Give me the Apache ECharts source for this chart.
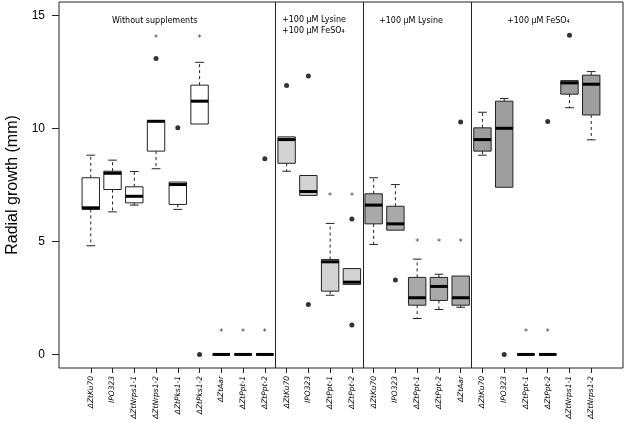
<!DOCTYPE html>
<html><head><meta charset="utf-8">
<script src="https://cdn.jsdelivr.net/npm/echarts@6/dist/echarts.min.js"></script>
<style>html,body{margin:0;padding:0;background:#fff}#c{width:625px;height:422px}</style>
</head><body><div id="c"></div>
<script>
// ---------- data ----------
const categories = ['ΔZtKu70','IPO323','ΔZtNrps1-1','ΔZtNrps1-2','ΔZtPks1-1','ΔZtPks1-2','ΔZtAar','ΔZtPpt-1','ΔZtPpt-2',
  'ΔZtKu70','IPO323','ΔZtPpt-1','ΔZtPpt-2',
  'ΔZtKu70','IPO323','ΔZtPpt-1','ΔZtPpt-2','ΔZtAar',
  'ΔZtKu70','IPO323','ΔZtPpt-1','ΔZtPpt-2','ΔZtNrps1-1','ΔZtNrps1-2'];
const panelSizes = [9, 4, 5, 6];
const panelTitles = ['Without supplements', '+100 µM Lysine\n+100 µM FeSO₄', '+100 µM Lysine', '+100 µM FeSO₄'];
const lowerWhisker  = [4.81, 6.31, 6.61, 8.22, 6.42, 10.20, 0, 0, 0, 8.11, 7.04, 2.62, 3.10, 4.87, 5.50, 1.59, 1.99, 2.09, 8.82, 7.40, 0, 0, 10.92, 9.50];
const lowerQuartile = [6.42, 7.30, 6.71, 9.00, 6.64, 10.20, 0, 0, 0, 8.46, 7.04, 2.80, 3.10, 5.78, 5.50, 2.18, 2.39, 2.18, 9.00, 7.40, 0, 0, 11.52, 10.60];
const medians       = [6.49, 8.02, 7.00, 10.32, 7.52, 11.21, 0, 0, 0, 9.51, 7.21, 4.10, 3.20, 6.61, 5.78, 2.51, 3.01, 2.51, 9.51, 10.01, 0, 0, 12.02, 11.96];
const upperQuartile = [7.82, 8.11, 7.42, 10.35, 7.63, 11.92, 0, 0, 0, 9.63, 7.92, 4.20, 3.80, 7.11, 6.56, 3.41, 3.41, 3.47, 10.03, 11.21, 0, 0, 12.12, 12.36];
const upperWhisker  = [8.82, 8.60, 8.10, 10.35, 7.63, 12.93, 0, 0, 0, 9.63, 7.92, 5.80, 3.80, 7.82, 7.52, 4.22, 3.55, 3.47, 10.72, 11.33, 0, 0, 12.12, 12.52];
const outlierCategory = [3, 4, 5, 8, 9, 10, 10, 12, 12, 14, 17, 19, 21, 22];
const outlierValue    = [13.10, 10.03, 0, 8.66, 11.90, 12.32, 2.21, 6.00, 1.30, 3.30, 10.29, 0, 10.31, 14.13];
const starCategory = [3, 5, 6, 7, 8, 11, 12, 15, 16, 17, 20, 21];
const starValue    = [14.04, 14.04, 1.03, 1.03, 1.03, 7.04, 7.04, 5.03, 5.03, 5.03, 1.03, 1.03];
const yTicks = [0, 5, 10, 15];

// ---------- styles / layout ----------
const panelFills = ['#ffffff', '#d3d3d3', '#a9a9a9', '#9e9e9e'];
const titlePos = [[112, 15], [282, 14], [379, 15], [507, 15]];
const LINE = '#222';

const panelOf = [];
const boundaries = [];
let acc = 0;
panelSizes.forEach((n, p) => { for (let k = 0; k < n; k++) panelOf.push(p); acc += n; if (p < panelSizes.length - 1) boundaries.push(acc - 0.5); });
const n = categories.length;
const pad = 0.5 + n * 0.04; // R-like axis extension
const boxData = categories.map((c, i) => [i, lowerWhisker[i], lowerQuartile[i], medians[i], upperQuartile[i], upperWhisker[i]]);
const outlierData = outlierCategory.map((c, i) => [c, outlierValue[i]]);
const starData = starCategory.map((c, i) => [c, starValue[i]]);

function renderBox(params, api) {
  const x = api.value(0);
  const lo = api.coord([x, api.value(1)]);
  const q1 = api.coord([x, api.value(2)]);
  const md = api.coord([x, api.value(3)]);
  const q3 = api.coord([x, api.value(4)]);
  const hi = api.coord([x, api.value(5)]);
  const w = api.size([0.8, 0])[0];
  const cx = lo[0], half = w / 2, cap = w / 4;
  const ch = [];
  if (hi[1] < q3[1] - 0.5) {
    ch.push({type: 'line', shape: {x1: cx, y1: q3[1], x2: cx, y2: hi[1]}, style: {stroke: LINE, lineWidth: 1, lineDash: [3, 3]}});
    ch.push({type: 'line', shape: {x1: cx - cap, y1: hi[1], x2: cx + cap, y2: hi[1]}, style: {stroke: LINE, lineWidth: 1}});
  }
  if (lo[1] > q1[1] + 0.5) {
    ch.push({type: 'line', shape: {x1: cx, y1: q1[1], x2: cx, y2: lo[1]}, style: {stroke: LINE, lineWidth: 1, lineDash: [3, 3]}});
    ch.push({type: 'line', shape: {x1: cx - cap, y1: lo[1], x2: cx + cap, y2: lo[1]}, style: {stroke: LINE, lineWidth: 1}});
  }
  ch.push({type: 'rect', shape: {x: cx - half, y: q3[1], width: w, height: q1[1] - q3[1]},
    style: {fill: panelFills[panelOf[x]], stroke: LINE, lineWidth: 1}});
  ch.push({type: 'line', shape: {x1: cx - half, y1: md[1], x2: cx + half, y2: md[1]}, style: {stroke: '#000', lineWidth: 3}});
  return {type: 'group', children: ch};
}

const chart = echarts.init(document.getElementById('c'), null, {renderer: 'canvas'});
chart.setOption({
  animation: false,
  backgroundColor: '#fff',
  title: panelTitles.map((t, i) => ({
    text: t, left: titlePos[i][0], top: titlePos[i][1], padding: 0,
    textStyle: {fontFamily: 'DejaVu Sans', fontSize: 8, fontWeight: 'normal', color: '#000', lineHeight: 11}
  })),
  grid: {left: 59, right: 2, top: 2, bottom: 54, containLabel: false, outerBoundsMode: 'none',
    show: true, borderColor: '#222', borderWidth: 1, backgroundColor: 'transparent'},
  xAxis: {
    type: 'value', min: -pad, max: n - 1 + pad, position: 'bottom',
    splitLine: {show: false}, axisLine: {show: false, onZero: false},
    axisTick: {show: true, length: 5, inside: false, customValues: categories.map((c, i) => i), lineStyle: {color: '#222'}},
    axisLabel: {show: true, customValues: categories.map((c, i) => i), formatter: v => categories[Math.round(v)] || '',
      rotate: 90, margin: 8, fontFamily: 'DejaVu Sans', fontStyle: 'italic', fontSize: 7.5, color: '#000'}
  },
  yAxis: {
    type: 'value', min: -0.6, max: 15.6, position: 'left',
    splitLine: {show: false}, axisLine: {show: false, onZero: false},
    name: 'Radial growth (mm)', nameLocation: 'middle', nameGap: 38,
    nameTextStyle: {fontFamily: 'Liberation Sans', fontSize: 16, color: '#000'},
    axisTick: {show: true, length: 7, inside: false, customValues: yTicks, lineStyle: {color: '#222'}},
    axisLabel: {show: true, customValues: yTicks, margin: 14, fontFamily: 'Liberation Sans', fontSize: 12, color: '#000'}
  },
  series: [
    {
      type: 'custom', renderItem: renderBox, data: boxData,
      encode: {x: 0, y: [1, 2, 3, 4, 5]}, clip: false,
      markLine: {silent: true, symbol: ['none', 'none'], label: {show: false},
        lineStyle: {color: '#222', width: 1, type: 'solid'},
        data: boundaries.map(b => ({xAxis: b}))}
    },
    {
      type: 'scatter', data: outlierData, symbol: 'circle', symbolSize: 5,
      itemStyle: {color: '#000'}
    },
    {
      type: 'scatter', data: starData, symbol: 'circle', symbolSize: 1,
      itemStyle: {color: 'rgba(0,0,0,0)'},
      label: {show: true, position: 'inside', formatter: '*', offset: [0, 2],
        fontFamily: 'DejaVu Sans', fontSize: 8, color: '#000'}
    }
  ]
});
</script></body></html>
